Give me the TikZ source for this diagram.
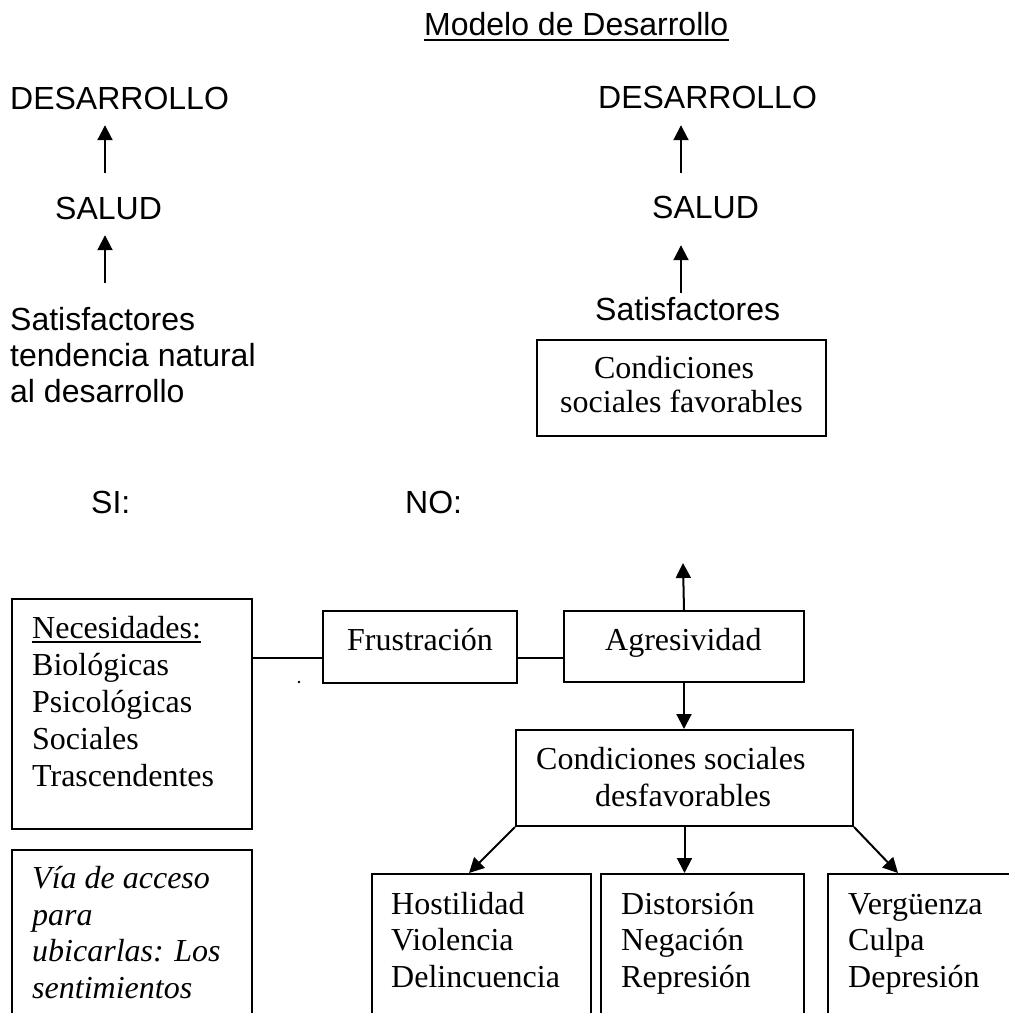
\documentclass[tikz,border=0pt]{standalone}
\usepackage{fontspec}
\setmainfont{Liberation Serif}
\newfontfamily\arialf{Liberation Sans}
\usetikzlibrary{arrows.meta}
\begin{document}
\begin{tikzpicture}[x=1pt,y=-1pt,
  txt/.style={inner sep=0pt, anchor=base west, text height=23pt, text depth=7pt, font=\fontsize{32}{36.6}\selectfont},
  itxt/.style={txt, font=\itshape\fontsize{32}{36.6}\selectfont},
  stxt/.style={txt, font=\arialf\fontsize{32}{36.6}\selectfont},
  box/.style={draw, line width=2pt, inner sep=0pt, anchor=north west},
  arr/.style={line width=2pt, -{Triangle[width=15pt,length=15pt]}},
  con/.style={line width=2pt}]
\useasboundingbox (0,0) rectangle (1009,1013);
\fill[white] (0,0) rectangle (1009,1013);
\clip (0,0) rectangle (1009,1013);

% title
\node[stxt] (title) at (424,35) {Modelo de Desarrollo};
\draw[line width=2.4pt] ([yshift=-5pt]title.base west) -- ([yshift=-5pt]title.base east);

% left column
\node[stxt] (desL) at (10,109) {DESARROLLO};
\node[stxt] (salL) at (55,219) {SALUD};
\node[stxt] (satL1) at (10,330) {Satisfactores};
\node[stxt] (satL2) at (10,366) {tendencia natural};
\node[stxt] (satL3) at (10,402) {al desarrollo};
\coordinate (axL) at (105,0);
\draw[arr, shorten <=23pt, shorten >=9pt] (salL.north -| axL) -- (desL.south -| axL);
\draw[arr, shorten <=24pt, shorten >=9pt] (satL1.north -| axL) -- (salL.south -| axL);

% right column
\node[stxt] (desR) at (598,108) {DESARROLLO};
\node[stxt] (salR) at (652,218) {SALUD};
\node[stxt] (satR) at (595,320) {Satisfactores};
\coordinate (axR) at (681,0);
\draw[arr, shorten <=22pt, shorten >=10pt] (salR.north -| axR) -- (desR.south -| axR);
\draw[arr, shorten <=4pt, shorten >=20pt] (satR.north -| axR) -- (salR.south -| axR);

\node[box, minimum width=289pt, minimum height=96pt] (fav) at (536,339) {};
\node[txt, anchor=base] (fav1) at (674,378) {Condiciones};
\node[txt] (fav2) at (560,412) {sociales favorables};

% SI / NO
\node[stxt] (si) at (91,513) {SI:};
\node[stxt] (no) at (405,513) {NO:};

% Necesidades
\node[box, minimum width=240pt, minimum height=230pt] (nec) at (11,598) {};
\node[txt] (nec1) at (32,638) {Necesidades:};
\draw[line width=1.6pt] ([yshift=-4pt]nec1.base west) -- ([yshift=-4pt]nec1.base east);
\node[txt] (nec2) at (32,675) {Biológicas};
\node[txt] (nec3) at (32,712) {Psicológicas};
\node[txt] (nec4) at (32,749) {Sociales};
\node[txt] (nec5) at (32,786) {Trascendentes};

% Via de acceso
\node[box, minimum width=240pt, minimum height=220pt] (via) at (11,849) {};
\node[itxt] (via1) at (32,888) {Vía de acceso};
\node[itxt] (via2) at (32,925) {para};
\node[itxt] (via3) at (32,961) {ubicarlas: Los};
\node[itxt] (via4) at (32,998) {sentimientos};

% Frustracion / Agresividad
\node[box, minimum width=194pt, minimum height=72pt] (fru) at (322,610) {};
\node[txt] (frut) at (347,650) {Frustración};
\node[box, minimum width=240pt, minimum height=71pt] (agr) at (563,610) {};
\node[txt] (agrt) at (605,650) {Agresividad};
\coordinate (hl) at (0,658);
\draw[con] (nec.east |- hl) -- (fru.west |- hl);
\draw[con] (fru.east |- hl) -- (agr.west |- hl);
\node[circle, fill, inner sep=0pt, minimum size=2.6pt] (dot) at (299,682) {};

\coordinate (up) at (683,563);
\draw[arr] (agr.north) -- (up);

% Condiciones desfavorables
\node[box, minimum width=337pt, minimum height=96pt] (des) at (515,729) {};
\node[txt] (des1) at (536,769) {Condiciones sociales};
\node[txt] (des2) at (595,806) {desfavorables};
\draw[arr] (agr.south) -- (agr.south |- des.north);

% bottom boxes
\node[box, minimum width=219pt, minimum height=200pt] (hos) at (371,873) {};
\node[txt] (hos1) at (391,914) {Hostilidad};
\node[txt] (hos2) at (391,950) {Violencia};
\node[txt] (hos3) at (391,987) {Delincuencia};
\node[box, minimum width=203pt, minimum height=200pt] (dis) at (600,873) {};
\node[txt] (dis1) at (621,914) {Distorsión};
\node[txt] (dis2) at (621,950) {Negación};
\node[txt] (dis3) at (621,987) {Represión};
\node[box, minimum width=200pt, minimum height=200pt] (ver) at (827,873) {};
\node[txt] (ver1) at (848,914) {Vergüenza};
\node[txt] (ver2) at (848,950) {Culpa};
\node[txt] (ver3) at (848,987) {Depresión};

\draw[arr] (des.south west) -- ([xshift=-12.5pt]hos.north);
\draw[arr] (des.south) -- (des.south |- dis.north);
\draw[arr] (des.south east) -- ([xshift=71pt]ver.west |- ver.north);
\end{tikzpicture}
\end{document}
